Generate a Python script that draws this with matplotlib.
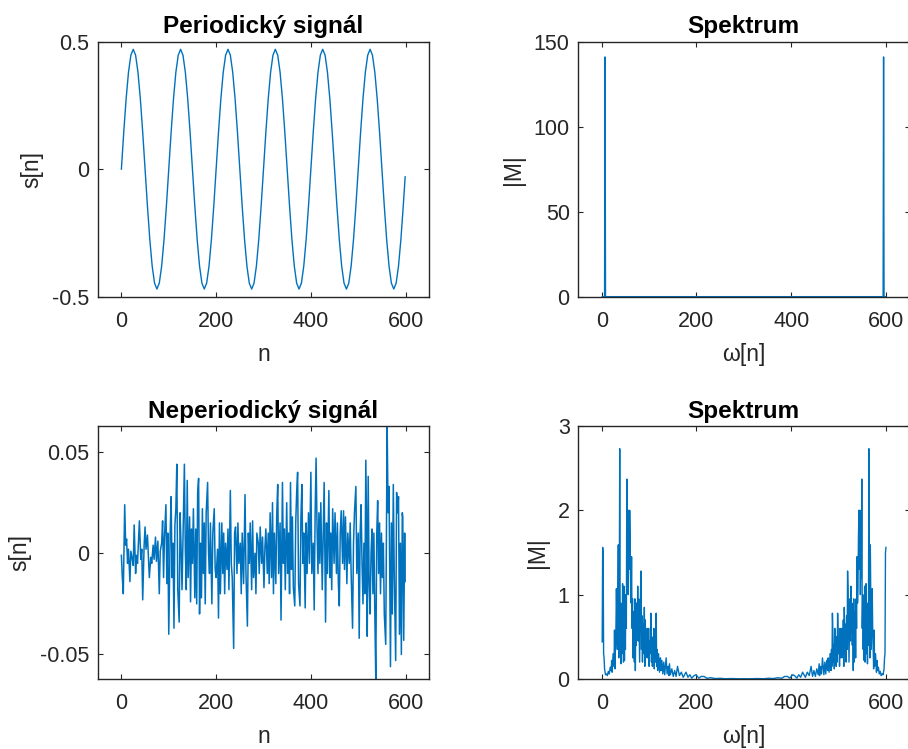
import matplotlib
matplotlib.use('Agg')
import matplotlib.pyplot as plt

plt.rcParams['font.family'] = ['Liberation Sans', 'DejaVu Sans']
plt.rcParams['axes.unicode_minus'] = False

###############################################################################
# Data

# Periodic signal, sampled every 5th sample (+ last sample 599)
sine_n = list(range(0, 600, 5)) + [599]
sine_s = [
    0.000, 0.145, 0.276, 0.380, 0.447, 0.470, 0.447, 0.380, 0.276, 0.145,
    0.000, -0.145, -0.276, -0.380, -0.447, -0.470, -0.447, -0.380, -0.276, -0.145,
    0.000, 0.145, 0.276, 0.380, 0.447, 0.470, 0.447, 0.380, 0.276, 0.145,
    0.000, -0.145, -0.276, -0.380, -0.447, -0.470, -0.447, -0.380, -0.276, -0.145,
    0.000, 0.145, 0.276, 0.380, 0.447, 0.470, 0.447, 0.380, 0.276, 0.145,
    0.000, -0.145, -0.276, -0.380, -0.447, -0.470, -0.447, -0.380, -0.276, -0.145,
    0.000, 0.145, 0.276, 0.380, 0.447, 0.470, 0.447, 0.380, 0.276, 0.145,
    0.000, -0.145, -0.276, -0.380, -0.447, -0.470, -0.447, -0.380, -0.276, -0.145,
    0.000, 0.145, 0.276, 0.380, 0.447, 0.470, 0.447, 0.380, 0.276, 0.145,
    0.000, -0.145, -0.276, -0.380, -0.447, -0.470, -0.447, -0.380, -0.276, -0.145,
    0.000, 0.145, 0.276, 0.380, 0.447, 0.470, 0.447, 0.380, 0.276, 0.145,
    0.000, -0.145, -0.276, -0.380, -0.447, -0.470, -0.447, -0.380, -0.276, -0.145,
    -0.030,
]

# Spectrum of periodic signal (zero everywhere except two spikes)
spec1_k = [1, 6, 7, 8, 594, 595, 596, 600]
spec1_m = [0.0, 0.0, 141.0, 0.0, 0.0, 141.0, 0.0, 0.0]

# Non-periodic signal (local extrema)
noise_n = [
    0, 2, 4, 7, 9, 11, 13, 15, 18, 20, 23, 25, 27, 30, 32, 34, 36, 38, 41, 43,
    45, 48, 50, 52, 55, 57, 59, 62, 64, 67, 69, 72, 74, 77, 80, 82, 85, 87, 89, 91,
    94, 96, 98, 100, 103, 105, 107, 109, 111, 113, 115, 117, 119, 122, 124, 126, 128, 131, 133, 135,
    137, 139, 141, 144, 146, 148, 150, 152, 155, 157, 159, 161, 163, 165, 167, 169, 171, 173, 175, 177,
    179, 182, 184, 186, 188, 191, 193, 196, 198, 200, 203, 205, 207, 209, 212, 214, 216, 218, 220, 223,
    225, 227, 230, 232, 234, 237, 239, 241, 244, 246, 248, 251, 253, 255, 258, 261, 263, 266, 268, 270,
    272, 275, 277, 279, 282, 284, 286, 289, 291, 293, 296, 298, 301, 303, 305, 308, 310, 312, 314, 317,
    319, 321, 323, 326, 328, 330, 332, 335, 337, 340, 342, 344, 346, 349, 351, 353, 355, 357, 359, 361,
    363, 366, 368, 370, 372, 374, 377, 379, 381, 383, 385, 388, 390, 392, 395, 397, 400, 402, 405, 407,
    409, 411, 413, 415, 417, 419, 421, 424, 426, 428, 431, 433, 435, 438, 440, 442, 444, 446, 449, 451,
    454, 456, 458, 460, 462, 464, 467, 469, 471, 473, 476, 478, 481, 483, 485, 488, 490, 492, 495, 497,
    500, 502, 504, 506, 508, 510, 512, 514, 516, 518, 519, 521, 523, 525, 527, 529, 531, 533, 535, 537,
    539, 541, 543, 545, 547, 549, 551, 553, 555, 558, 561, 563, 565, 568, 570, 572, 574, 576, 579, 581,
    583, 585, 587, 589, 591, 593, 594, 596, 598, 599,
]
noise_s = [
    -0.001, -0.012, -0.020, 0.024, 0.004, 0.007, -0.005, 0.002, -0.014, 0.001,
    -0.003, -0.006, 0.014, -0.010, -0.001, -0.005, 0.005, 0.016, -0.003, 0.002,
    -0.023, 0.004, 0.013, 0.002, 0.009, -0.002, -0.012, -0.002, -0.005, 0.004,
    -0.003, 0.008, -0.004, 0.006, -0.020, 0.001, 0.005, 0.016, -0.012, 0.008,
    0.024, -0.015, 0.010, -0.040, 0.010, 0.028, -0.012, 0.005, -0.037, 0.014,
    0.022, 0.044, -0.018, -0.034, 0.020, 0.003, -0.018, 0.020, 0.044, 0.001,
    -0.018, 0.036, -0.012, 0.018, -0.024, 0.012, -0.005, 0.022, -0.022, 0.012,
    -0.025, 0.030, 0.037, -0.030, 0.005, -0.022, 0.022, -0.010, 0.015, -0.025,
    0.020, 0.035, 0.000, -0.010, 0.015, -0.025, 0.010, 0.022, -0.008, -0.012,
    0.002, -0.032, 0.015, -0.020, 0.015, -0.010, 0.010, -0.020, 0.005, -0.008,
    0.012, -0.018, 0.031, -0.005, -0.012, -0.047, 0.010, 0.013, -0.010, 0.015,
    -0.005, 0.005, -0.020, 0.010, -0.015, 0.029, -0.010, -0.036, 0.010, -0.005,
    0.015, -0.018, 0.016, -0.012, 0.000, -0.020, 0.010, 0.005, -0.010, 0.013,
    -0.005, 0.008, -0.017, 0.003, 0.012, -0.010, 0.010, -0.015, 0.020, -0.012,
    0.025, -0.020, 0.010, -0.015, 0.020, 0.034, -0.010, 0.015, -0.033, 0.035,
    -0.005, 0.012, -0.018, 0.025, -0.010, 0.010, -0.020, 0.035, -0.008, 0.018,
    -0.017, -0.026, 0.015, 0.030, 0.040, -0.015, -0.026, 0.018, 0.034, -0.005,
    0.010, -0.027, 0.015, -0.010, 0.020, -0.005, 0.040, -0.010, 0.005, -0.028,
    0.020, 0.047, 0.013, -0.010, 0.020, -0.005, 0.025, -0.018, 0.010, 0.035,
    -0.034, 0.015, -0.010, 0.031, -0.012, 0.010, -0.018, 0.022, -0.005, 0.020,
    -0.010, 0.015, -0.015, -0.026, 0.010, 0.021, -0.005, 0.021, -0.008, 0.018,
    -0.015, 0.010, -0.005, 0.015, -0.010, -0.037, 0.005, 0.020, 0.033, -0.010,
    0.010, -0.042, 0.010, 0.024, -0.005, -0.025, 0.005, -0.020, 0.046, 0.005,
    -0.041, 0.038, -0.015, -0.030, 0.000, 0.012, -0.020, 0.010, -0.030, -0.0621,
    0.009, 0.026, -0.010, 0.015, -0.020, 0.010, -0.012, 0.005, -0.030, -0.045,
    0.0629, 0.020, 0.033, -0.056, 0.015, -0.030, 0.034, -0.010, -0.053, 0.030,
    0.020, 0.028, -0.040, 0.005, -0.050, 0.020, 0.018, -0.043, 0.010, -0.014,
]

# Spectrum of non-periodic signal, low half and mirrored high half
spec2_k_low = [
    1, 2, 3, 4, 5, 6, 8, 10, 12, 14, 16, 18, 20, 21, 22, 24, 26, 27, 28, 30,
    31, 33, 34, 35, 36, 37, 38, 39, 40, 41, 42, 43, 44, 45, 46, 47, 48, 49, 50, 51,
    52, 53, 54, 55, 56, 57, 58, 59, 60, 61, 62, 63, 64, 65, 66, 67, 68, 69, 70, 71,
    72, 73, 74, 75, 76, 77, 78, 79, 80, 81, 82, 83, 84, 85, 86, 87, 88, 89, 90, 91,
    92, 93, 94, 95, 96, 97, 98, 99, 100, 101, 102, 103, 104, 105, 106, 107, 108, 109, 110, 111,
    112, 113, 114, 115, 116, 117, 118, 120, 122, 124, 125, 127, 129, 131, 133, 135, 136, 138, 140, 142,
    143, 145, 148, 151, 154, 157, 160, 164, 168, 172, 176, 178, 182, 186, 190, 195, 199, 205, 210, 216,
    222, 230, 240, 250, 260, 275, 290, 301,
]
spec2_m_low = [
    0.44, 1.56, 1.50, 0.30, 0.25, 0.12, 0.05, 0.06, 0.04, 0.09, 0.06, 0.14, 0.10, 0.22, 0.08, 0.30, 0.15, 0.58, 0.12, 0.60,
    1.07, 0.35, 0.90, 1.59, 0.25, 0.80, 2.73, 0.40, 0.90, 0.18, 0.65, 0.30, 1.13, 0.95, 0.20, 1.10, 0.22, 0.90, 0.35, 1.00,
    0.60, 2.37, 1.20, 1.55, 1.00, 2.00, 1.30, 2.00, 1.70, 1.10, 0.90, 1.45, 0.60, 0.95, 0.25, 0.80, 0.35, 0.20, 0.95, 0.10,
    0.70, 0.40, 0.90, 0.55, 1.10, 0.45, 0.95, 0.55, 0.20, 0.60, 1.05, 1.28, 0.35, 0.75, 0.20, 0.65, 0.30, 0.60, 0.85, 0.15,
    0.70, 0.25, 0.55, 0.35, 0.60, 0.25, 0.45, 0.60, 0.15, 0.45, 0.30, 0.55, 0.78, 0.20, 0.50, 0.15, 0.45, 0.25, 0.60, 0.12,
    0.40, 0.20, 0.55, 0.78, 0.15, 0.35, 0.10, 0.30, 0.08, 0.25, 0.10, 0.22, 0.06, 0.20, 0.05, 0.18, 0.25, 0.06, 0.15, 0.04,
    0.18, 0.05, 0.12, 0.03, 0.10, 0.03, 0.15, 0.04, 0.08, 0.02, 0.06, 0.08, 0.02, 0.05, 0.01, 0.04, 0.05, 0.01, 0.03, 0.03,
    0.008, 0.015, 0.005, 0.008, 0.003, 0.005, 0.002, 0.003,
]
spec2_k_high = [
    312, 327, 342, 352, 362, 372, 380, 386, 392, 397, 403, 407, 412, 416, 420, 424, 426, 430, 434, 438,
    442, 445, 448, 451, 454, 457, 459, 460, 462, 464, 466, 467, 469, 471, 473, 475, 477, 478, 480, 482,
    484, 485, 486, 487, 488, 489, 490, 491, 492, 493, 494, 495, 496, 497, 498, 499, 500, 501, 502, 503,
    504, 505, 506, 507, 508, 509, 510, 511, 512, 513, 514, 515, 516, 517, 518, 519, 520, 521, 522, 523,
    524, 525, 526, 527, 528, 529, 530, 531, 532, 533, 534, 535, 536, 537, 538, 539, 540, 541, 542, 543,
    544, 545, 546, 547, 548, 549, 550, 551, 552, 553, 554, 555, 556, 557, 558, 559, 560, 561, 562, 563,
    564, 565, 566, 567, 568, 569, 571, 572, 574, 575, 576, 578, 580, 581, 582, 584, 586, 588, 590, 592,
    594, 596, 597, 598, 599, 600,
]
spec2_m_high = [
    0.002, 0.005, 0.003, 0.008, 0.005, 0.015, 0.008, 0.03, 0.03, 0.01, 0.05, 0.04, 0.01, 0.05, 0.02, 0.08, 0.06, 0.02, 0.08, 0.04,
    0.15, 0.03, 0.10, 0.03, 0.12, 0.05, 0.18, 0.04, 0.15, 0.06, 0.25, 0.18, 0.05, 0.20, 0.06, 0.22, 0.10, 0.25, 0.08, 0.30,
    0.10, 0.35, 0.15, 0.78, 0.55, 0.20, 0.40, 0.12, 0.60, 0.25, 0.45, 0.15, 0.50, 0.20, 0.78, 0.55, 0.30, 0.45, 0.15, 0.60,
    0.45, 0.25, 0.60, 0.35, 0.55, 0.25, 0.70, 0.15, 0.85, 0.60, 0.30, 0.65, 0.20, 0.75, 0.35, 1.28, 1.05, 0.60, 0.20, 0.55,
    0.95, 0.45, 1.10, 0.55, 0.90, 0.40, 0.70, 0.10, 0.95, 0.20, 0.35, 0.80, 0.25, 0.95, 0.60, 1.45, 0.90, 1.10, 1.70, 2.00,
    1.30, 2.00, 1.00, 1.55, 1.20, 2.37, 0.60, 1.00, 0.35, 0.90, 0.22, 1.10, 0.20, 0.95, 1.13, 0.30, 0.65, 0.18, 0.90, 0.40,
    2.73, 0.80, 0.25, 1.59, 0.90, 0.35, 1.07, 0.60, 0.12, 0.58, 0.15, 0.30, 0.08, 0.22, 0.10, 0.14, 0.06, 0.09, 0.04, 0.06,
    0.05, 0.12, 0.25, 0.30, 1.50, 1.56,
]

###############################################################################
# Style helpers (MATLAB-like look)

LINE_C = '#0072BD'
AX_C = '#262626'
FS_TICK = 15.5
FS_LABEL = 16.5
FS_TITLE = 17.5


def style_axes(ax, title, xlabel, ylabel, xlim, ylim, xticks, yticks, yticklabels):
    ax.set_xlim(*xlim)
    ax.set_ylim(*ylim)
    ax.set_xticks(xticks)
    ax.set_yticks(yticks)
    ax.set_yticklabels(yticklabels)
    ax.tick_params(direction='in', length=3.5, width=0.8, top=True, right=True,
                   labelsize=FS_TICK, colors=AX_C, pad=6)
    ax.tick_params(axis='x', pad=10)
    for sp in ax.spines.values():
        sp.set_color(AX_C)
        sp.set_linewidth(1.0)
    ax.set_title(title, fontsize=FS_TITLE, fontweight='bold', pad=6)
    ax.set_xlabel(xlabel, fontsize=FS_LABEL, color=AX_C, labelpad=8)
    ax.set_ylabel(ylabel, fontsize=FS_LABEL, color=AX_C, labelpad=6)


fig = plt.figure(figsize=(9.08, 7.49), dpi=100)
W, H = 0.3652, 0.3405
ax1 = fig.add_axes([0.1076, 0.6039, W, H])
ax2 = fig.add_axes([0.6366, 0.6039, W, H])
ax3 = fig.add_axes([0.1076, 0.0935, W, 0.3378])
ax4 = fig.add_axes([0.6366, 0.0935, W, 0.3378])

ax1.plot(sine_n, sine_s, color=LINE_C, lw=1.0)
style_axes(ax1, 'Periodický signál', 'n', 's[n]', (-50, 650), (-0.5, 0.5),
           [0, 200, 400, 600], [-0.5, 0, 0.5], ['-0.5', '0', '0.5'])

ax2.plot(spec1_k, spec1_m, color=LINE_C, lw=1.0)
style_axes(ax2, 'Spektrum', 'ω[n]', '|M|', (-50, 650), (0, 150),
           [0, 200, 400, 600], [0, 50, 100, 150], ['0', '50', '100', '150'])

ax3.plot(noise_n, noise_s, color=LINE_C, lw=1.1)
style_axes(ax3, 'Neperiodický signál', 'n', 's[n]', (-50, 650), (-0.0621, 0.0629),
           [0, 200, 400, 600], [-0.05, 0, 0.05], ['-0.05', '0', '0.05'])

ax4.plot(spec2_k_low + spec2_k_high, spec2_m_low + spec2_m_high, color=LINE_C, lw=1.0)
style_axes(ax4, 'Spektrum', 'ω[n]', '|M|', (-50, 650), (0, 3),
           [0, 200, 400, 600], [0, 1, 2, 3], ['0', '1', '2', '3'])

fig.savefig('out.png', dpi=100)
plt.close(fig)
